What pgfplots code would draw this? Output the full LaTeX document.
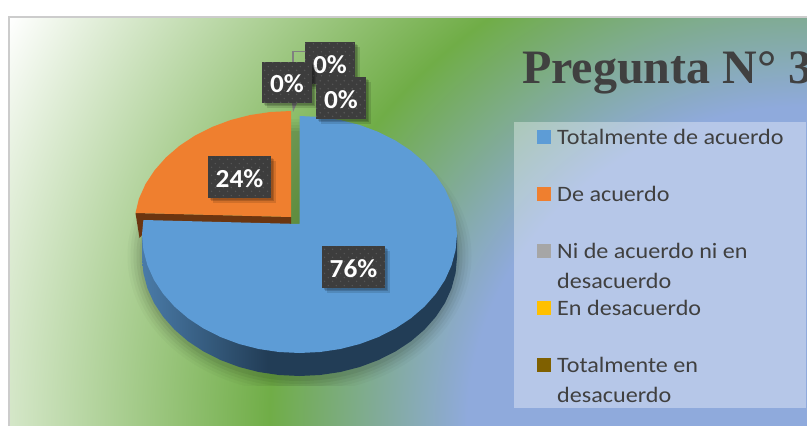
\documentclass[border=0pt]{standalone}
\usepackage{pgfplots}
\pgfplotsset{compat=1.18}
\usepackage{fontspec}
\setmainfont{Carlito}
\newfontfamily\titlefont{Liberation Serif}
\newfontfamily\legfont[FakeStretch=1.097]{Carlito}
\newfontfamily\labfont[FakeStretch=1.05]{Carlito}
\usetikzlibrary{patterns}
\definecolor{cGreen}{HTML}{70AD47}
\definecolor{cBlueBg}{HTML}{8FAADC}
\definecolor{cPie}{HTML}{5D9CD6}
\definecolor{cOrange}{HTML}{EF7F2F}
\definecolor{cOrangeD}{HTML}{6B3510}
\definecolor{cSideL}{HTML}{4A7BA8}
\definecolor{cSideR}{HTML}{223D56}
\definecolor{cText}{HTML}{404040}
\definecolor{cBox}{HTML}{3D3D3D}
\pgfdeclareradialshading{bgrad}{\pgfpointorigin}{color(0bp)=(cBlueBg); color(9.35bp)=(cBlueBg); color(14.8bp)=(cGreen); color(25bp)=(white); color(50bp)=(white)}
\pgfdeclarehorizontalshading{sideshade}{100bp}{color(0bp)=(cSideL); color(25bp)=(cSideL); color(45bp)=(cSideR); color(100bp)=(cSideR)}
\pgfdeclarepatternformonly{ldots}{\pgfpointorigin}{\pgfqpoint{7.5pt}{7.5pt}}{\pgfqpoint{7.5pt}{7.5pt}}{%
  \pgfpathcircle{\pgfqpoint{1.8pt}{1.8pt}}{.8pt}\pgfpathcircle{\pgfqpoint{5.55pt}{5.55pt}}{.8pt}\pgfusepath{fill}}
\newcommand\lab[4]{%
  \fill[black,opacity=.12,xshift=1.5pt,yshift=-1.5pt] (axis cs:#1,#2) rectangle (axis cs:#3,#4);
  \fill[black,opacity=.16,xshift=3pt,yshift=-3pt] (axis cs:#1,#2) rectangle (axis cs:#3,#4);
  \fill[black,opacity=.12,xshift=4.5pt,yshift=-4.5pt] (axis cs:#1,#2) rectangle (axis cs:#3,#4);
  \fill[cBox] (axis cs:#1,#2) rectangle (axis cs:#3,#4);
  \fill[pattern=ldots,pattern color=white!14!cBox] (axis cs:#1,#2) rectangle (axis cs:#3,#4);
}
\begin{document}
\begin{tikzpicture}
\useasboundingbox (0,0) rectangle (807pt,426pt);
\clip (0,0) rectangle (807pt,426pt);
\fill[white] (0,0) rectangle (807pt,426pt);
\begin{scope}
\clip (9pt,0) rectangle (807pt,409pt);
\shade[shading=bgrad] (-101pt,-854pt) rectangle (1715pt,854pt);
\end{scope}
\draw[line width=2pt,color=black!20] (8.5pt,-5pt) -- (8.5pt,409pt) -- (815pt,409pt);
\begin{axis}[
  at={(0,0)},anchor=south west,
  width=807pt,height=426pt,scale only axis,
  xmin=0,xmax=807,ymin=0,ymax=426,y dir=reverse,
  axis lines=none,clip=false]
% pie shadow
\begin{scope}
\clip (axis cs:0,0) rectangle (axis cs:807,385);
\fill[black,opacity=.025] (axis cs:299.5,256) ellipse [x radius=172pt,y radius=137pt];
\fill[black,opacity=.03] (axis cs:299.5,256) ellipse [x radius=169pt,y radius=134pt];
\fill[black,opacity=.04] (axis cs:299.5,256) ellipse [x radius=166pt,y radius=131pt];
\fill[black,opacity=.05] (axis cs:299.5,256) ellipse [x radius=163pt,y radius=128pt];
\fill[black,opacity=.06] (axis cs:299.5,256) ellipse [x radius=160pt,y radius=125pt];
\end{scope}
% orange side
\addplot[draw=none,fill=cOrangeD,forget plot] coordinates {(135.5,213)(291,217)(291,224.5)(150,226)(139.5,238)} --cycle;
% orange top: De acuerdo 24 %
\addplot[draw=none,fill=cOrange,forget plot] coordinates {
(291,111)(270.4,112)(250.2,115)(230.7,120)(212.25,126.9)(195.1,135.5)(179.6,145.7)(166,157.4)(154.6,170.25)(145.5,184.1)(138.9,198.8)(135.5,213)(291,217)} --cycle;
% blue side
\addplot[draw=none,shading=sideshade,forget plot] coordinates {
(142,234.5)(142,257.5)(143.4,273)(147.4,288.2)(154,302.9)(163.1,316.75)(174.5,329.6)(188.1,341.3)(203.6,351.5)(220.7,360.1)(239.2,367)(258.7,372)(278.9,375)(299.5,376)(320.1,375)(340.3,372)(359.8,367)(378.3,360.1)(395.4,351.5)(410.9,341.3)(424.5,329.6)(435.9,316.75)(445,302.9)(451.6,288.2)(455.6,273)(457,257.5)(457,234.5)} --cycle;
% blue top: Totalmente de acuerdo 76 %
\addplot[draw=none,fill=cPie,forget plot] coordinates {
(299.5,116)(320.1,117)(340.3,120)(359.8,125)(378.3,131.9)(395.4,140.5)(410.9,150.7)(424.5,162.4)(435.9,175.25)(445,189.1)(451.6,203.8)(455.6,219)(457,234.5)
(455.6,250)(451.6,265.2)(445,279.9)(435.9,293.75)(424.5,306.6)(410.9,318.3)(395.4,328.5)(378.3,337.1)(359.8,344)(340.3,349)(320.1,352)(299.5,353)
(278.9,352)(258.7,349)(239.2,344)(220.7,337.1)(203.6,328.5)(188.1,318.3)(174.5,306.6)(163.1,293.75)(154,279.9)(147.4,265.2)(143.4,250)(142,234.5)(143.4,220)(299.5,224)} --cycle;
% leader lines
\draw[color=black!50,line width=1.3pt] (axis cs:293,62) -- (axis cs:293,51.5) -- (axis cs:306,51.5);
\fill[color=black!50] (axis cs:292,103) -- (axis cs:297,103) -- (axis cs:293,112) -- cycle;
% data labels
\lab{322}{246}{385}{288}
\node[anchor=base,text=white,font=\labfont\bfseries\fontsize{26}{26}\selectfont] at (axis cs:353.5,277) {76\%};
\lab{208}{156}{271}{198}
\node[anchor=base,text=white,font=\labfont\bfseries\fontsize{26}{26}\selectfont] at (axis cs:239.5,187) {24\%};
\lab{305}{42}{355}{84}
\node[anchor=base,text=white,font=\labfont\bfseries\fontsize{26}{26}\selectfont] at (axis cs:330,73) {0\%};
\lab{262}{62}{312}{103}
\node[anchor=base,text=white,font=\labfont\bfseries\fontsize{26}{26}\selectfont] at (axis cs:287,92) {0\%};
\lab{316}{77}{366}{119}
\node[anchor=base,text=white,font=\labfont\bfseries\fontsize{26}{26}\selectfont] at (axis cs:341,108) {0\%};
% title
\node[anchor=base west,inner sep=0pt,text=cText,font=\titlefont\bfseries\fontsize{48}{48}\selectfont] at (axis cs:522,83) {Pregunta N° 3};
% legend
\fill[white,opacity=.35] (axis cs:514,122) rectangle (axis cs:806,408);
\fill[cPie] (axis cs:537,130) rectangle (axis cs:551,144);
\fill[cOrange] (axis cs:537,187) rectangle (axis cs:551,201);
\fill[black!35] (axis cs:537,244) rectangle (axis cs:551,258);
\fill[fill={rgb,255:red,255;green,192;blue,0}] (axis cs:537,301) rectangle (axis cs:551,315);
\fill[fill={rgb,255:red,127;green,96;blue,0}] (axis cs:537,358) rectangle (axis cs:551,372);
\begin{scope}[every node/.style={anchor=base west,inner sep=0pt,text=cText,font=\legfont\fontsize{22}{22}\selectfont}]
\node at (axis cs:557,144) {Totalmente de acuerdo};
\node at (axis cs:557,201) {De acuerdo};
\node at (axis cs:557,258) {Ni de acuerdo ni en};
\node at (axis cs:557,288) {desacuerdo};
\node at (axis cs:557,315) {En desacuerdo};
\node at (axis cs:557,372) {Totalmente en};
\node at (axis cs:557,402) {desacuerdo};
\end{scope}
\end{axis}
\end{tikzpicture}
\end{document}
